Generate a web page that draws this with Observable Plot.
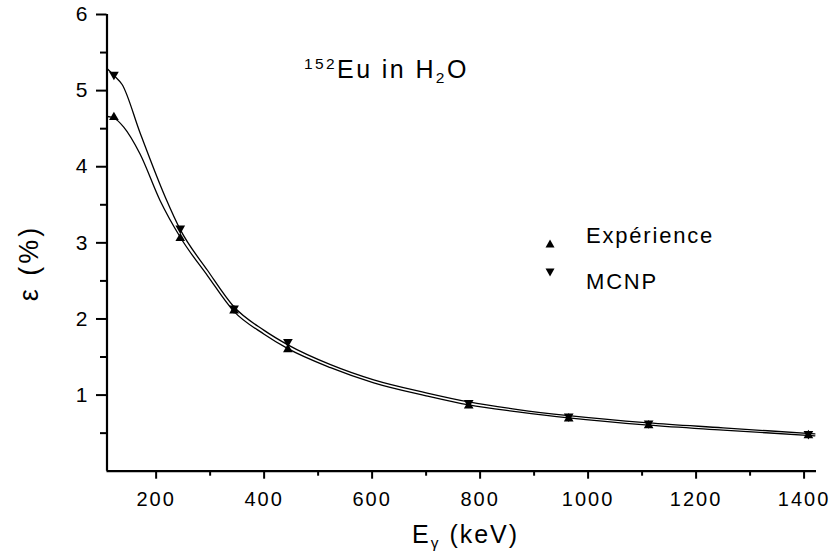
<!DOCTYPE html>
<html>
<head>
<meta charset="utf-8">
<script src="https://cdn.jsdelivr.net/npm/d3@7"></script>
<script src="https://cdn.jsdelivr.net/npm/@observablehq/plot@0.6"></script>
<style>
  html, body { margin: 0; padding: 0; background: white; }
  #wrap { position: relative; width: 838px; height: 553px; font-family: 'Liberation Sans', Arial, sans-serif; color: black; }
  #wrap svg { display: block; }
  .ov { position: absolute; white-space: nowrap; line-height: 1; }
  .sup { font-size: 0.62em; position: relative; top: -0.55em; }
  .sub { font-size: 0.62em; position: relative; top: 0.3em; }
</style>
</head>
<body>
<div id="wrap">
  <div id="chart"></div>
  <div class="ov" id="title" style="left:304px; top:57px; font-size:25px; letter-spacing:2.4px;"><span class="sup">152</span>Eu in H<span class="sub">2</span>O</div>
  <div class="ov" id="legend" style="left:543px; top:222px; font-size:22px; letter-spacing:1.8px;">
    <div style="position:relative; height:46px;">
      <svg width="14" height="14" style="position:absolute; left:0; top:15px;"><polygon points="7,2.5 11.5,10.5 2.5,10.5" fill="black"/></svg>
      <span style="position:absolute; left:43px; top:3px;">Expérience</span>
    </div>
    <div style="position:relative; height:46px;">
      <svg width="14" height="14" style="position:absolute; left:0; top:-3px;"><polygon points="2.5,3.5 11.5,3.5 7,11.5" fill="black"/></svg>
      <span style="position:absolute; left:43px; top:3px;">MCNP</span>
    </div>
  </div>
  <div class="ov" id="xlabel" style="left:412px; top:522px; font-size:25px; letter-spacing:2px;">E<span class="sub">γ</span> (keV)</div>
  <div class="ov" id="ylabel" style="left:29px; top:263px; font-size:27px; letter-spacing:3px; transform: translate(-50%,-50%) rotate(-90deg);">ε (%)</div>
</div>
<script>
// Data
const xDomain = [109, 1423];
const yDomain = [0, 6];
const energies   = [121.8, 244.7, 344.3, 444.0, 778.9, 964.1, 1112.1, 1408.0];
const expValues  = [4.65, 3.06, 2.11, 1.60, 0.86, 0.69, 0.60, 0.47];
const mcnpValues = [5.21, 3.19, 2.14, 1.70, 0.90, 0.72, 0.63, 0.49];
// fitted curves, sampled along the drawn lines
const expFitE  = [110, 121.8, 140, 170, 207, 245, 295, 344, 400, 444, 523, 603, 700, 779, 870, 964, 1112, 1250, 1420];
const expFitV  = [4.66, 4.64, 4.52, 4.17, 3.56, 3.07, 2.57, 2.10, 1.80, 1.61, 1.36, 1.16, 0.99, 0.87, 0.78, 0.70, 0.605, 0.54, 0.465];
const mcnpFitE = [109, 121.8, 137, 170, 217, 245, 295, 344, 400, 444, 523, 603, 700, 779, 870, 964, 1112, 1250, 1420];
const mcnpFitV = [5.29, 5.20, 5.08, 4.45, 3.60, 3.17, 2.64, 2.16, 1.85, 1.66, 1.40, 1.20, 1.03, 0.91, 0.81, 0.73, 0.635, 0.57, 0.49];
// ticks
const xMajorTicks = [200, 400, 600, 800, 1000, 1200, 1400];
const xMinorTicks = [300, 500, 700, 900, 1100, 1300];
const yMajorTicks = [1, 2, 3, 4, 5, 6];
const yMinorTicks = [0.5, 1.5, 2.5, 3.5, 4.5, 5.5];

const expPts  = energies.map((e, i) => ({e, v: expValues[i]}));
const mcnpPts = energies.map((e, i) => ({e, v: mcnpValues[i]}));
const expFit  = expFitE.map((e, i) => ({e, v: expFitV[i]}));
const mcnpFit = mcnpFitE.map((e, i) => ({e, v: mcnpFitV[i]}));

const triangleDown = {
  draw(context, size) {
    const y = Math.sqrt(size / (Math.sqrt(3) * 3));
    context.moveTo(0, 2 * y);
    context.lineTo(-Math.sqrt(3) * y, -y);
    context.lineTo(Math.sqrt(3) * y, -y);
    context.closePath();
  }
};

const fmt = d => String(d);

const chart = Plot.plot({
  width: 838,
  height: 553,
  marginLeft: 106.5,
  marginRight: 22,
  marginTop: 14,
  marginBottom: 82.3,
  style: {fontFamily: "'Liberation Sans', Arial, sans-serif", fontSize: "20px", color: "black", background: "white", letterSpacing: "2px"},
  x: {domain: xDomain},
  y: {domain: yDomain},
  marks: [
    Plot.axisX({ticks: xMinorTicks, tickSize: 5, tickFormat: () => "", label: null, strokeWidth: 2}),
    Plot.axisX({ticks: xMajorTicks, tickSize: 8, tickPadding: 13, tickFormat: fmt, fontSize: 20, label: null, strokeWidth: 2}),
    Plot.axisY({ticks: yMinorTicks, tickSize: 6.5, tickFormat: () => "", label: null, strokeWidth: 2}),
    Plot.axisY({ticks: yMajorTicks, tickSize: 10.5, tickPadding: 7, tickFormat: fmt, fontSize: 21, label: null, strokeWidth: 2}),
    Plot.line(expFit, {x: "e", y: "v", curve: "monotone-x", stroke: "black", strokeWidth: 1.3}),
    Plot.line(mcnpFit, {x: "e", y: "v", curve: "monotone-x", stroke: "black", strokeWidth: 1.3}),
    Plot.dot(expPts, {x: "e", y: "v", symbol: "triangle", r: 3.6, fill: "black", stroke: "none"}),
    Plot.dot(mcnpPts, {x: "e", y: "v", symbol: triangleDown, r: 3.6, fill: "black", stroke: "none"}),
    Plot.ruleY([yDomain[0]], {stroke: "black", strokeWidth: 2.2}),
    Plot.ruleX([xDomain[0]], {stroke: "black", strokeWidth: 2.2})
  ]
});
document.getElementById("chart").appendChild(chart);
</script>
</body>
</html>
